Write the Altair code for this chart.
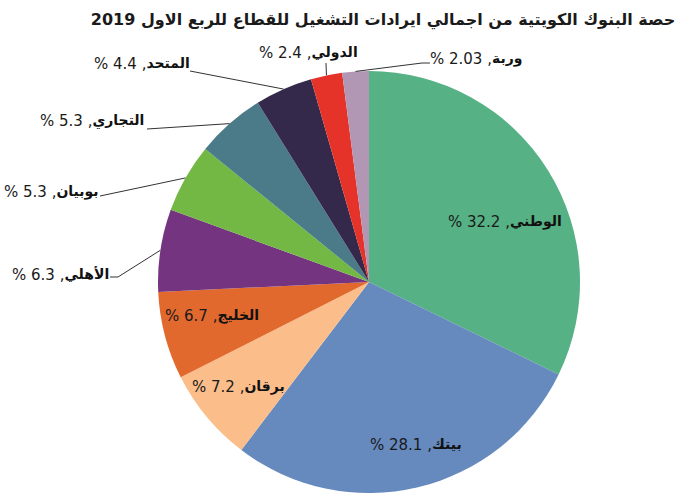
import math
import altair as alt
import pandas as pd

# ---------------- data ----------------
TITLE = "حصة البنوك الكويتية من اجمالي ايرادات التشغيل للقطاع للربع الاول 2019"
BANKS = ["الوطني", "بيتك", "برقان", "الخليج", "الأهلي", "بوبيان", "التجاري", "المتحد", "الدولي", "وربة"]
SHARES = [32.2, 28.1, 7.2, 6.7, 6.3, 5.3, 5.3, 4.4, 2.4, 2.03]
SHARE_TEXT = ["32.2", "28.1", "7.2", "6.7", "6.3", "5.3", "5.3", "4.4", "2.4", "2.03"]

# ---------------- style / layout ----------------
COLORS = ["#56B185", "#6689BE", "#FBBE8B", "#E2692E", "#74347F",
          "#73B844", "#4B7A88", "#34294A", "#E53329", "#B297B5"]
W, H = 632, 436
PAD = {"left": 53, "top": 64, "right": 0, "bottom": 0}
R = 211
# left edge and vertical centre of each label, relative to the pie centre
LABEL_POS = [(79, -60), (1, 163), (-177, 105), (-204, 34), (-357, -7),
             (-365, -90), (-329, -161), (-275, -218), (-110, -229), (61, -223)]
# leader line bend/end points for outside labels (relative to centre)
LEADERS = {4: [(-251, -5), (-259, -5)], 5: [(-269, -86)], 6: [(-222, -153)],
           7: [(-179, -211)], 8: [(-43, -219)], 9: [(53, -219), (61, -219)]}
FONT = "DejaVu Sans"
FS = 15
NAME_FS = 14
CHAR_W = {"%": 0.95, " ": 0.318, ",": 0.318, ".": 0.318}  # em widths, digits 0.636


def num_width(s):
    return sum(CHAR_W.get(c, 0.636) for c in s) * FS


# ---------------- tables ----------------
slices = pd.DataFrame({"bank": BANKS, "share": SHARES, "idx": range(len(BANKS))})

total = sum(SHARES)
name_rows, num_rows, line_rows = [], [], []
cum = 0.0
for i, (b, s, t) in enumerate(zip(BANKS, SHARES, SHARE_TEXT)):
    mid = (cum + s / 2) / total * 2 * math.pi
    cum += s
    lx, ly = LABEL_POS[i]
    num = f"% {t} ,"
    split = lx + num_width(num)
    num_rows.append({"label": num, "x": split, "y": ly})
    name_rows.append({"label": b, "x": split, "y": ly})
    if i in LEADERS:
        pts = [(R * math.sin(mid), -R * math.cos(mid))] + LEADERS[i]
        for k, (px, py) in enumerate(pts):
            line_rows.append({"line": i, "step": k, "x": px, "y": py})

names = pd.DataFrame(name_rows)
nums = pd.DataFrame(num_rows)
lines = pd.DataFrame(line_rows)

xs = alt.Scale(domain=[-W / 2, W / 2], nice=False, zero=False)
ys = alt.Scale(domain=[-H / 2, H / 2], nice=False, zero=False, reverse=True)

arcs = alt.Chart(slices).mark_arc(outerRadius=R).encode(
    theta=alt.Theta("share:Q", stack=True),
    color=alt.Color("bank:N", scale=alt.Scale(domain=BANKS, range=COLORS), legend=None),
    order=alt.Order("idx:Q", sort="ascending"),
)

leader = alt.Chart(lines).mark_line(color="#333333", strokeWidth=1).encode(
    x=alt.X("x:Q", scale=xs, axis=None),
    y=alt.Y("y:Q", scale=ys, axis=None),
    detail="line:N",
    order="step:Q",
)

num_text = alt.Chart(nums).mark_text(
    font=FONT, fontSize=FS, color="#1a1a1a", align="right", baseline="middle"
).encode(
    x=alt.X("x:Q", scale=xs, axis=None),
    y=alt.Y("y:Q", scale=ys, axis=None),
    text="label:N",
)

name_text = alt.Chart(names).mark_text(
    font=FONT, fontSize=NAME_FS, fontWeight="bold", color="#111111", align="left", baseline="middle"
).encode(
    x=alt.X("x:Q", scale=xs, axis=None),
    y=alt.Y("y:Q", scale=ys, axis=None),
    text="label:N",
)

title = alt.Chart(pd.DataFrame({"t": [TITLE]})).mark_text(
    font=FONT, fontSize=16, fontWeight="bold", color="#1a1a1a", align="center", baseline="middle"
).encode(
    x=alt.value(383 - PAD["left"]), y=alt.value(20 - PAD["top"]), text="t:N"
)

chart = alt.layer(arcs, leader, num_text, name_text, title).properties(
    width=W, height=H, padding=PAD, autosize=alt.AutoSizeParams(type="none")
).configure_view(stroke=None)

chart.save("out.html", embed_options={"renderer": "svg", "actions": False})
